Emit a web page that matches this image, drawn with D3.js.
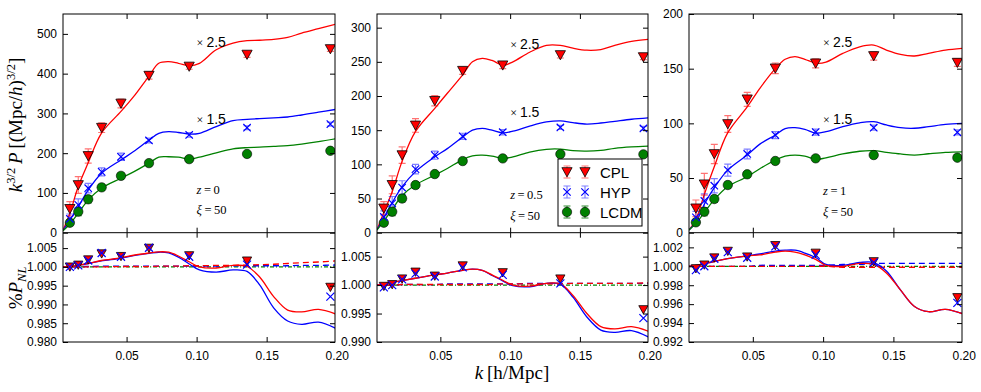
<!DOCTYPE html>
<html><head><meta charset="utf-8">
<script src="https://cdn.jsdelivr.net/npm/d3@7"></script>
<style>body{margin:0;background:#fff}svg{display:block}</style>
</head><body><svg id="c" width="981" height="392"></svg>
<script>
// ---------- DATA ----------
const kPoints = [0.0095,0.0155,0.0226,0.0322,0.046,0.066,0.0947,0.136,0.1955];
const kCurve  = [0.0046,0.0095,0.0155,0.0225,0.032,0.046,0.055,0.066,0.073,0.080,0.087,0.095,0.102,0.114,0.126,0.136,0.145,0.155,0.165,0.175,0.187,0.199];
const seriesNames = ["CPL","HYP","LCDM"];
const redshifts = ["0","0.5","1"];
const xiValue = "50";

// z = 0 : scaled P(k) points
const cplP1  = [60,120,193,264,325,395,418,448,462];
const hypP1  = [35,70,112,153,191,232,246,264,273];
const lcdmP1 = [25,53,84,114,143,175,185,198,206];
const cplE1  = [18,21,18,12,11,9,7,7,6];
const hypE1  = [12,15,12,10,9,6,6,5,5];
const lcdmE1 = [7.5,10,9,7.5,6,5,5,5,5];
const cplC1  = [6,49,116,175,250,305,342,394,426,430,426,420,426,460,477,483,484,486,491,502,513,524];
const hypC1  = [5,32,65,107,149,183,204,233,250,254,252,248,250,267,282,285,287,289,291,296,303,310];
const lcdmC1 = [5,22,49,82,112,137,153,175,190,191,190,185,190,201,211,214,215,217,219,223,229,236];
// z = 0.5
const cplP2  = [35.6,70,113.5,157,193,237,245,260,257];
const hypP2  = [23,43,66,93,113.5,141,147,154,152.6];
const lcdmP2 = [14.6,30.7,50,69.7,85.8,104.8,108.7,115,114.6];
const cplE2  = [10,13,12,10,7.5,5.4,5,4.4,3.7];
const hypE2  = [9,10,10,7,6,4.5,4,3,3];
const lcdmE2 = [4.4,5.8,5.1,4.4,3.6,2.9,2.9,2.9,2.9];
const cplC2  = [4,30,60,104,147.6,182,204,231,250,255,252,245,250,264,274,274,270,267,268,274,280,283];
const hypC2  = [4,22,44,67,89,111,123,140,150,152.6,150,146,148.5,156,162,163.7,161,159,160.5,163,166,168];
const lcdmC2 = [4,17,34,54,69.7,84.3,94,107,112.5,113.5,112,108.7,111,118,122,122.3,120,119.4,120.6,123.5,125.5,126.7];
// z = 1
const cplP3  = [22.3,44.3,72,99.4,122,150.3,154.9,161.6,155.5];
const hypP3  = [14,29,43,57.3,72,89.3,92,96,91.8];
const lcdmP3 = [9.5,19.2,30.8,43.6,53.4,65.6,68,71,68.6];
const cplE3  = [7.6,9.9,8.8,7.6,6.4,4.9,4.1,3.8,3.4];
const hypE3  = [5.5,6.5,6.5,5.5,4.5,3.2,2.8,2.3,2.3];
const lcdmE3 = [2.7,3.7,3.2,2.7,2.3,1.8,1.8,1.8,1.8];
const cplC3  = [2.5,12,35,60,91,115,132,150,158.6,161,158.6,155,156,164,170,171.6,167,163,161.6,164,167,168.6];
const hypC3  = [2.5,9.5,26,41,57,71,81,89.3,95.2,96,94.5,91,92.4,97,100.5,101.5,98.5,96,95.5,97,99,100];
const lcdmC3 = [2.5,8.5,18.5,30,42,51.2,58.5,66.5,70,71,70,67,68.5,72,74.5,75,73.5,72,71,72.2,73.5,74];

// ratio panels (%P_NL)
const cplR1  = [1.0000,1.0005,1.0019,1.0035,1.0028,1.0050,1.0030,1.0016,0.9946];
const hypR1  = [1.0000,1.0004,1.0017,1.0037,1.0027,1.0051,1.0027,1.0006,0.9921];
const cplRC1 = [1.0000,1.0001,1.0004,1.0009,1.0017,1.0024,1.0031,1.0037,1.0040,1.0039,1.0029,1.0013,1.0000,0.9997,1.0004,1.0001,0.9973,0.9921,0.9885,0.9880,0.9887,0.9875];
const hypRC1 = [1.0000,1.0001,1.0004,1.0009,1.0016,1.0023,1.0030,1.0036,1.0039,1.0037,1.0026,1.0007,0.9992,0.9986,0.9992,0.9988,0.9952,0.9891,0.9856,0.9847,0.9853,0.9837];
const cplRD1 = [1.0000,1.0000,1.0000,1.0000,1.0000,1.0001,1.0001,1.0001,1.0002,1.0002,1.0002,1.0003,1.0003,1.0004,1.0004,1.0005,1.0006,1.0007,1.0009,1.0011,1.0013,1.0016];
const hypRD1 = [1.0000,1.0000,1.0001,1.0001,1.0002,1.0002,1.0002,1.0002,1.0002,1.0002,1.0002,1.0002,1.0002,1.0002,1.0003,1.0003,1.0003,1.0003,1.0003,1.0004,1.0004,1.0005];

const cplR2  = [0.9998,1.0001,1.0011,1.0023,1.0016,1.0034,1.0022,1.0011,0.9957];
const hypR2  = [0.9996,1.0000,1.0010,1.0020,1.0015,1.0031,1.0018,1.0003,0.9942];
const cplRC2 = [1.0000,1.0002,1.0005,1.0008,1.0012,1.0018,1.0021,1.0026,1.0028,1.0026,1.0018,1.0008,1.0000,0.9998,1.0003,1.0002,0.9982,0.9950,0.9927,0.9923,0.9927,0.9919];
const hypRC2 = [1.0000,1.0002,1.0005,1.0008,1.0012,1.0018,1.0021,1.0026,1.0028,1.0026,1.0017,1.0007,0.9999,0.9997,1.0003,1.0001,0.9979,0.9944,0.9921,0.9917,0.9920,0.9909];
const cplRD2 = [1.0000,1.0000,1.0000,1.0001,1.0001,1.0001,1.0001,1.0001,1.0001,1.0001,1.0001,1.0002,1.0002,1.0002,1.0002,1.0002,1.0003,1.0003,1.0003,1.0003,1.0003,1.0004];
const hypRD2 = [1.0000,1.0000,1.0000,1.0001,1.0001,1.0001,1.0002,1.0002,1.0002,1.0002,1.0002,1.0002,1.0002,1.0003,1.0003,1.0003,1.0003,1.0003,1.0003,1.0003,1.0003,1.0003];

const cplR3  = [0.99976,1.00015,1.0009,1.0016,1.0010,1.0022,1.0014,1.0005,0.9967];
const hypR3  = [0.9996,1.0000,1.0008,1.0015,1.0009,1.0021,1.0012,1.0004,0.99614];
const cplRC3 = [1.0000,1.0001,1.0003,1.0005,1.0008,1.0011,1.0012,1.0015,1.0016,1.0015,1.0012,1.0007,1.0001,1.0000,1.0003,1.0002,0.9993,0.9975,0.99575,0.9952,0.99545,0.9950];
const hypRC3 = [1.0000,1.0001,1.0003,1.0005,1.0008,1.0011,1.0013,1.0016,1.0017,1.0017,1.0014,1.0009,1.0002,1.0001,1.0004,1.0004,0.9995,0.9975,0.99575,0.9952,0.99545,0.9950];
const cplRD3 = [1.0000,1.0000,1.0000,1.0000,1.0000,1.0000,1.0000,1.0000,1.0000,1.0000,1.0000,1.0000,1.0000,0.9999,0.9999,0.9999,0.9999,0.9999,0.9999,0.9999,0.9999,0.9999];
const hypRD3 = [1.0000,1.0000,1.0000,1.0000,1.0000,1.0000,1.0001,1.0001,1.0001,1.0001,1.0001,1.0001,1.0001,1.0002,1.0002,1.0003,1.0003,1.0003,1.0003,1.0003,1.0003,1.0003];
const lcdmRD = kCurve.map(() => 1.0);

// axis ticks
const xTicks = [0.05,0.10,0.15,0.20];
const yTicksTop = [[0,100,200,300,400,500],[0,50,100,150,200,250,300],[0,50,100,150,200]];
const yTicksBot = [[0.980,0.985,0.990,0.995,1.000,1.005],[0.990,0.995,1.000,1.005],[0.992,0.994,0.996,0.998,1.000,1.002]];
const yDomTop = [[0,550],[0,320],[0,200]];
const yDomBot = [[0.980,1.0091],[0.990,1.0092],[0.992,1.00355]];
const xDom = [0.0046,0.1988];
// annotation anchors (data coords)
const scaleLabels = ["2.5","1.5"];
const scaleLabelY = [[480,286],[276,176],[174.4,104]];
const infoY = [[107,57],[55,24.4],[38,19]];

// ---------- LAYOUT ----------
const svg = d3.select("#c");
const lefts = [63,377,689], rights=[335,648,962];
const topY0 = 14, midY = 232.7, botY1 = 342;
const RED="#ff0000", BLUE="#0000ff", GREEN="#008000";
const TICKFONT = "Liberation Sans, Arial, sans-serif";
const SERIF = "Liberation Serif, Times New Roman, serif";

const panels = [
 {P:[cplP1,hypP1,lcdmP1],E:[cplE1,hypE1,lcdmE1],C:[cplC1,hypC1,lcdmC1],R:[cplR1,hypR1],RC:[cplRC1,hypRC1],RD:[cplRD1,hypRD1]},
 {P:[cplP2,hypP2,lcdmP2],E:[cplE2,hypE2,lcdmE2],C:[cplC2,hypC2,lcdmC2],R:[cplR2,hypR2],RC:[cplRC2,hypRC2],RD:[cplRD2,hypRD2]},
 {P:[cplP3,hypP3,lcdmP3],E:[cplE3,hypE3,lcdmE3],C:[cplC3,hypC3,lcdmC3],R:[cplR3,hypR3],RC:[cplRC3,hypRC3],RD:[cplRD3,hypRD3]}
];
const colors=[RED,BLUE,GREEN];
const errColors=["rgba(255,0,0,0.55)","rgba(0,0,255,0.5)","rgba(0,110,0,0.8)"];

function triDown(g,cx,cy,r,fill){
  g.append("path").attr("d",`M${cx-r},${cy-r*0.85}L${cx+r},${cy-r*0.85}L${cx},${cy+r*0.95}Z`)
   .attr("fill",fill).attr("stroke","#000").attr("stroke-width",0.8);
}
function xMark(g,cx,cy,r,col){
  g.append("path").attr("d",`M${cx-r},${cy-r}L${cx+r},${cy+r}M${cx-r},${cy+r}L${cx+r},${cy-r}`)
   .attr("stroke",col).attr("stroke-width",1.2).attr("fill","none");
}
function circ(g,cx,cy,r,col){
  g.append("circle").attr("cx",cx).attr("cy",cy).attr("r",r).attr("fill",col).attr("stroke","#000").attr("stroke-width",0.6);
}
function marker(i,g,cx,cy,small){
  if(i===0) triDown(g,cx,cy,small?4.6:5.1,RED);
  else if(i===1) xMark(g,cx,cy,small?4:3.7,BLUE);
  else circ(g,cx,cy,4.7,GREEN);
}
function errbar(g,cx,y1,y2,col){
  g.append("path").attr("d",`M${cx},${y1}V${y2}M${cx-3.5},${y1}H${cx+3.5}M${cx-3.5},${y2}H${cx+3.5}`)
   .attr("stroke",col).attr("stroke-width",1.2).attr("fill","none");
}
function styleAxis(g){
  g.select(".domain").remove();
  g.selectAll(".tick line").attr("stroke","#000").attr("stroke-width",1);
  g.selectAll(".tick text").attr("fill","#000").attr("font-family",TICKFONT).attr("font-size",12);
}

panels.forEach((p,pi)=>{
  const L=lefts[pi], Rr=rights[pi];
  const x=d3.scaleLinear().domain(xDom).range([L,Rr]);
  const yT=d3.scaleLinear().domain(yDomTop[pi]).range([midY,topY0]);
  const yB=d3.scaleLinear().domain(yDomBot[pi]).range([botY1,midY]);

  const defs=svg.append("defs");
  defs.append("clipPath").attr("id","ct"+pi).append("rect").attr("x",L).attr("y",topY0).attr("width",Rr-L).attr("height",midY-topY0);
  defs.append("clipPath").attr("id","cb"+pi).append("rect").attr("x",L).attr("y",midY).attr("width",Rr-L).attr("height",botY1-midY);

  // ---- top panel ----
  const gt=svg.append("g").attr("clip-path",`url(#ct${pi})`);
  p.C.forEach((arr,si)=>{
    const line=d3.line().x((d,i)=>x(kCurve[i])).y(d=>yT(d)).curve(d3.curveCatmullRom.alpha(0.5));
    gt.append("path").attr("d",line(arr)).attr("fill","none").attr("stroke",colors[si]).attr("stroke-width",1.3);
  });
  [2,1,0].forEach(si=>{
    p.P[si].forEach((v,i)=>{
      errbar(gt,x(kPoints[i]),yT(v-p.E[si][i]),yT(v+p.E[si][i]),errColors[si]);
    });
  });
  [2,1,0].forEach(si=>{
    p.P[si].forEach((v,i)=>marker(si,gt,x(kPoints[i]),yT(v),false));
  });

  // ---- bottom panel ----
  const gb=svg.append("g").attr("clip-path",`url(#cb${pi})`);
  const lineB=d3.line().x((d,i)=>x(kCurve[i])).y(d=>yB(d)).curve(d3.curveCatmullRom.alpha(0.5));
  gb.append("path").attr("d",lineB(lcdmRD)).attr("fill","none").attr("stroke",GREEN).attr("stroke-width",1.3).attr("stroke-dasharray","4,2,1,2");
  gb.append("path").attr("d",lineB(p.RD[1])).attr("fill","none").attr("stroke",BLUE).attr("stroke-width",1.3).attr("stroke-dasharray","6,4");
  gb.append("path").attr("d",lineB(p.RD[0])).attr("fill","none").attr("stroke",RED).attr("stroke-width",1.3).attr("stroke-dasharray","6,4");
  gb.append("path").attr("d",lineB(p.RC[1])).attr("fill","none").attr("stroke",BLUE).attr("stroke-width",1.3);
  gb.append("path").attr("d",lineB(p.RC[0])).attr("fill","none").attr("stroke",RED).attr("stroke-width",1.3);
  p.R[0].forEach((v,i)=>marker(0,gb,x(kPoints[i]),yB(v),true));
  p.R[1].forEach((v,i)=>marker(1,gb,x(kPoints[i]),yB(v),true));

  // ---- axes ----
  const tk=5;
  styleAxis(svg.append("g").attr("transform",`translate(${L},0)`).call(d3.axisLeft(yT).tickValues(yTicksTop[pi]).tickSize(-tk).tickPadding(6).tickFormat(d3.format("d"))));
  styleAxis(svg.append("g").attr("transform",`translate(${Rr},0)`).call(d3.axisRight(yT).tickValues(yTicksTop[pi]).tickSize(-tk).tickFormat("")));
  styleAxis(svg.append("g").attr("transform",`translate(0,${topY0})`).call(d3.axisTop(x).tickValues(xTicks.filter(t=>t<xDom[1])).tickSize(-tk).tickFormat("")));
  styleAxis(svg.append("g").attr("transform",`translate(0,${midY})`).call(d3.axisBottom(x).tickValues(xTicks.filter(t=>t<xDom[1])).tickSize(-tk).tickFormat("")));
  styleAxis(svg.append("g").attr("transform",`translate(${L},0)`).call(d3.axisLeft(yB).tickValues(yTicksBot[pi]).tickSize(-tk).tickPadding(6).tickFormat(d3.format(".3f"))));
  styleAxis(svg.append("g").attr("transform",`translate(${Rr},0)`).call(d3.axisRight(yB).tickValues(yTicksBot[pi]).tickSize(-tk).tickFormat("")));
  styleAxis(svg.append("g").attr("transform",`translate(0,${midY})`).call(d3.axisTop(x).tickValues(xTicks.filter(t=>t<xDom[1])).tickSize(-tk).tickFormat("")));
  styleAxis(svg.append("g").attr("transform",`translate(0,${botY1})`).call(d3.axisBottom(x).tickValues(xTicks).tickSize(0).tickPadding(9).tickFormat(d3.format(".2f"))));
  styleAxis(svg.append("g").attr("transform",`translate(0,${botY1})`).call(d3.axisBottom(x).tickValues(xTicks.filter(t=>t<xDom[1])).tickSize(-tk).tickFormat("")));

  svg.append("rect").attr("x",L).attr("y",topY0).attr("width",Rr-L).attr("height",botY1-topY0).attr("fill","none").attr("stroke","#000").attr("stroke-width",1);
  svg.append("line").attr("x1",L).attr("x2",Rr).attr("y1",midY).attr("y2",midY).attr("stroke","#000").attr("stroke-width",1);

  // annotations
  scaleLabels.forEach((s,j)=>{
    const t=svg.append("text").attr("x",x(0.1)).attr("y",yT(scaleLabelY[pi][j])+5).attr("font-family",TICKFONT).attr("font-size",14).attr("fill","#000");
    t.append("tspan").attr("font-family",SERIF).attr("font-size",12).text("\u00d7 ");
    t.append("tspan").text(s);
  });
  const t1=svg.append("text").attr("x",x(0.1)).attr("y",yT(infoY[pi][0])+4).attr("font-family",SERIF).attr("font-size",12.5).attr("fill","#000");
  t1.append("tspan").attr("font-style","italic").text("z");
  t1.append("tspan").text("\u2009=\u2009"+redshifts[pi]);
  const t2=svg.append("text").attr("x",x(0.1)).attr("y",yT(infoY[pi][1])+4).attr("font-family",SERIF).attr("font-size",12.5).attr("fill","#000");
  t2.append("tspan").attr("font-style","italic").text("\u03be");
  t2.append("tspan").text("\u2009=\u2009"+xiValue);

  if(pi===1){
    const lg=svg.append("g");
    lg.append("rect").attr("x",558).attr("y",159).attr("width",84).attr("height",67).attr("fill","#fff").attr("stroke","#000").attr("stroke-width",1);
    seriesNames.forEach((n,si)=>{
      const ry=172+si*20;
      [567,585].forEach(mx=>{
        errbar(lg,mx,ry-6,ry+6,errColors[si]);
        marker(si,lg,mx,ry,false);
      });
      lg.append("text").attr("x",600).attr("y",ry+5.5).attr("font-family",TICKFONT).attr("font-size",15).attr("fill","#000").text(n);
    });
  }
});

// axis labels
const yl=svg.append("text").attr("transform","translate(22,125) rotate(-90)").attr("text-anchor","middle").attr("font-family",SERIF).attr("font-size",19).attr("fill","#000");
yl.append("tspan").attr("font-style","italic").text("k");
yl.append("tspan").attr("font-size",12.5).attr("dy",-7).text("3/2");
yl.append("tspan").attr("dy",7).attr("font-style","italic").text("\u2009P\u2009");
yl.append("tspan").text("[(Mpc/");
yl.append("tspan").attr("font-style","italic").text("h");
yl.append("tspan").text(")");
yl.append("tspan").attr("font-size",12.5).attr("dy",-7).text("3/2");
yl.append("tspan").attr("dy",7).text("]");

const pl=svg.append("text").attr("transform","translate(22,288) rotate(-90)").attr("text-anchor","middle").attr("font-family",SERIF).attr("font-size",19).attr("fill","#000");
pl.append("tspan").text("%");
pl.append("tspan").attr("font-style","italic").text("P");
pl.append("tspan").attr("font-style","italic").attr("font-size",12.5).attr("dy",4).text("NL");

const xl=svg.append("text").attr("x",512).attr("y",379).attr("text-anchor","middle").attr("font-family",SERIF).attr("font-size",19).attr("fill","#000");
xl.append("tspan").attr("font-style","italic").text("k");
xl.append("tspan").text("\u2009[h/Mpc]");
</script></body></html>
